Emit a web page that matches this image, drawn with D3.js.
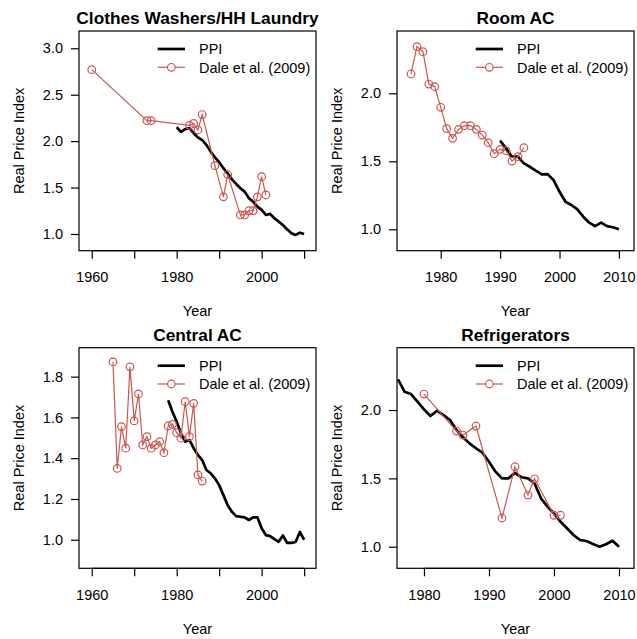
<!DOCTYPE html>
<html>
<head>
<meta charset="utf-8">
<script src="https://cdn.jsdelivr.net/npm/d3@7"></script>
<style>
  html, body { margin: 0; padding: 0; background: #fff; }
  svg { display: block; }
  text { font-family: "Liberation Sans", Arial, Helvetica, sans-serif; fill: #000; }
</style>
</head>
<body>
<svg id="chart" width="637" height="639"></svg>
<script>
// ---------- DATA ----------
// Clothes Washers / HH Laundry
const washerPPIYears = [1980,1981,1982,1983,1984,1985,1986,1987,1988,1989,1990,1991,1992,1993,1994,1995,1996,1997,1998,1999,2000,2001,2002,2003,2004,2005,2006,2007,2008,2009,2010];
const washerPPI      = [2.15,2.10,2.13,2.14,2.085,2.04,2.01,1.96,1.887,1.826,1.773,1.708,1.654,1.589,1.539,1.492,1.456,1.385,1.348,1.294,1.259,1.205,1.216,1.169,1.133,1.097,1.05,1.007,0.99,1.014,1.0];
const washerDaleYears = [1960,1973,1974,1983,1984,1985,1986,1989,1991,1992,1995,1996,1997,1998,1999,2000,2001];
const washerDale      = [2.77,2.22,2.22,2.17,2.19,2.12,2.286,1.736,1.40,1.64,1.205,1.205,1.25,1.25,1.40,1.617,1.42];

// Room AC
const roomPPIYears = [1990,1991,1992,1993,1994,1995,1996,1997,1998,1999,2000,2001,2002,2003,2004,2005,2006,2007,2008,2009,2010];
const roomPPI      = [1.652,1.595,1.534,1.535,1.485,1.46,1.431,1.404,1.406,1.362,1.276,1.203,1.179,1.147,1.093,1.049,1.024,1.049,1.024,1.015,1.0];
const roomDaleYears = [1975,1976,1977,1978,1979,1980,1981,1982,1983,1984,1985,1986,1987,1988,1989,1990,1991,1992,1993,1994];
const roomDale      = [2.142,2.343,2.306,2.068,2.049,1.897,1.74,1.669,1.735,1.762,1.762,1.735,1.693,1.637,1.556,1.588,1.578,1.502,1.534,1.60];

// Central AC
const centralPPIYears = [1978,1979,1980,1981,1982,1983,1984,1985,1986,1987,1988,1989,1990,1991,1992,1993,1994,1995,1996,1997,1998,1999,2000,2001,2002,2003,2004,2005,2006,2007,2008,2009,2010];
const centralPPI      = [1.684,1.628,1.579,1.522,1.481,1.489,1.449,1.416,1.391,1.342,1.326,1.301,1.268,1.219,1.17,1.137,1.116,1.113,1.11,1.097,1.11,1.11,1.056,1.023,1.018,1.003,0.99,1.021,0.985,0.985,0.989,1.038,1.0];
const centralDaleYears = [1965,1966,1967,1968,1969,1970,1971,1972,1973,1974,1975,1976,1977,1978,1979,1980,1981,1982,1983,1984,1985,1986];
const centralDale      = [1.872,1.35,1.555,1.449,1.848,1.583,1.715,1.465,1.506,1.449,1.465,1.481,1.427,1.558,1.566,1.525,1.498,1.677,1.506,1.669,1.318,1.288];

// Refrigerators
const fridgePPIYears = [1976,1977,1978,1979,1980,1981,1982,1983,1984,1985,1986,1987,1988,1989,1990,1991,1992,1993,1994,1995,1996,1997,1998,1999,2000,2001,2002,2003,2004,2005,2006,2007,2008,2009,2010];
const fridgePPI      = [2.225,2.134,2.117,2.061,2.005,1.956,1.995,1.963,1.927,1.854,1.80,1.756,1.72,1.688,1.622,1.549,1.50,1.50,1.54,1.508,1.50,1.464,1.354,1.293,1.244,1.183,1.135,1.086,1.049,1.042,1.02,1.0,1.018,1.044,1.0];
const fridgeDaleYears = [1980,1985,1986,1988,1992,1994,1996,1997,2000,2001];
const fridgeDale      = [2.117,1.846,1.817,1.883,1.21,1.585,1.378,1.497,1.23,1.23];

// Tick values
const xTicksWide   = [1960,1970,1980,1990,2000,2010];
const xLabelsWide  = [1960,1980,2000];
const xTicksNarrow = [1980,1990,2000,2010];
const yTicksWasher = [1.0,1.5,2.0,2.5,3.0];
const yTicksRoom   = [1.0,1.5,2.0];
const yTicksCentral= [1.0,1.2,1.4,1.6,1.8];
const yTicksFridge = [1.0,1.5,2.0];

const titles = ["Clothes Washers/HH Laundry","Room AC","Central AC","Refrigerators"];
const legendLabels = ["PPI","Dale et al. (2009)"];
const xLabel = "Year", yLabel = "Real Price Index";

// ---------- LAYOUT ----------
const RED = "#CD5650";
const FS = 14.5, TFS = 17.3;
const panels = [
  {title: titles[0], left: 79,  right: 316, top: 31,    bottom: 250.7, xd: [1957.0, 2012.8], yd: [0.82, 3.186],
   ppiX: washerPPIYears, ppiY: washerPPI, daleX: washerDaleYears, daleY: washerDale,
   xTicks: xTicksWide, xLabels: xLabelsWide, yTicks: yTicksWasher},
  {title: titles[1], left: 397, right: 634, top: 31,    bottom: 250.7, xd: [1972.64, 2012.54], yd: [0.843, 2.458],
   ppiX: roomPPIYears, ppiY: roomPPI, daleX: roomDaleYears, daleY: roomDale,
   xTicks: xTicksNarrow, xLabels: xTicksNarrow, yTicks: yTicksRoom},
  {title: titles[2], left: 79,  right: 316, top: 347.7, bottom: 568.3, xd: [1957.0, 2012.8], yd: [0.86, 1.942],
   ppiX: centralPPIYears, ppiY: centralPPI, daleX: centralDaleYears, daleY: centralDale,
   xTicks: xTicksWide, xLabels: xLabelsWide, yTicks: yTicksCentral},
  {title: titles[3], left: 397, right: 634, top: 347.7, bottom: 568.3, xd: [1975.85, 2012.31], yd: [0.842, 2.456],
   ppiX: fridgePPIYears, ppiY: fridgePPI, daleX: fridgeDaleYears, daleY: fridgeDale,
   xTicks: xTicksNarrow, xLabels: xTicksNarrow, yTicks: yTicksFridge}
];

const svg = d3.select("#chart");
const defs = svg.append("defs");

panels.forEach((p, i) => {
  const x = d3.scaleLinear().domain(p.xd).range([p.left, p.right]);
  const y = d3.scaleLinear().domain(p.yd).range([p.bottom, p.top]);
  const g = svg.append("g");
  const cx = (p.left + p.right) / 2, cy = (p.top + p.bottom) / 2;

  defs.append("clipPath").attr("id", "clip" + i)
    .append("rect").attr("x", p.left).attr("y", p.top)
    .attr("width", p.right - p.left).attr("height", p.bottom - p.top);

  // title
  g.append("text").attr("x", cx).attr("y", p.top - 7)
    .attr("text-anchor", "middle").attr("font-size", TFS).attr("font-weight", "bold")
    .text(p.title);

  // axes
  const xAxis = d3.axisBottom(x).tickValues(p.xTicks).tickSize(8).tickPadding(13.5)
    .tickFormat(d => p.xLabels.includes(d) ? String(d) : "");
  const gx = g.append("g").attr("transform", `translate(0,${p.bottom})`).call(xAxis);
  const yAxis = d3.axisLeft(y).tickValues(p.yTicks).tickSize(8).tickPadding(8)
    .tickFormat(d3.format(".1f"));
  const gy = g.append("g").attr("transform", `translate(${p.left},0)`).call(yAxis);
  [gx, gy].forEach(a => {
    a.select(".domain").remove();
    a.selectAll(".tick line").attr("stroke", "#000").attr("stroke-width", 1.2);
    a.selectAll(".tick text").attr("font-size", FS).attr("fill", "#000")
      .attr("font-family", '"Liberation Sans", Arial, sans-serif');
  });
  g.append("line").attr("x1", x(p.xTicks[0])).attr("x2", x(p.xTicks[p.xTicks.length-1]))
    .attr("y1", p.bottom).attr("y2", p.bottom).attr("stroke", "#000").attr("stroke-width", 1.2);

  // axis labels
  g.append("text").attr("x", cx).attr("y", p.bottom + 65.5)
    .attr("text-anchor", "middle").attr("font-size", FS).text(xLabel);
  g.append("text").attr("transform", `translate(${p.left - 55},${cy}) rotate(-90)`)
    .attr("text-anchor", "middle").attr("font-size", FS).text(yLabel);

  // box
  g.append("rect").attr("x", p.left).attr("y", p.top)
    .attr("width", p.right - p.left).attr("height", p.bottom - p.top)
    .attr("fill", "none").attr("stroke", "#000").attr("stroke-width", 1.2);

  const plot = g.append("g").attr("clip-path", `url(#clip${i})`);
  const line = d3.line().x(d => x(d[0])).y(d => y(d[1]));

  // PPI line
  plot.append("path").datum(p.ppiX.map((yr, k) => [yr, p.ppiY[k]]))
    .attr("d", line).attr("fill", "none").attr("stroke", "#000")
    .attr("stroke-width", 2.7).attr("stroke-linejoin", "round").attr("stroke-linecap", "butt");

  // Dale line + points
  const dale = p.daleX.map((yr, k) => [yr, p.daleY[k]]);
  plot.append("path").datum(dale).attr("d", line).attr("fill", "none")
    .attr("stroke", RED).attr("stroke-width", 1.2);
  plot.selectAll("circle.dale").data(dale).enter().append("circle")
    .attr("class", "dale").attr("cx", d => x(d[0])).attr("cy", d => y(d[1]))
    .attr("r", 3.8).attr("fill", "none").attr("stroke", RED).attr("stroke-width", 1.2);

  // legend
  const lx1 = p.right - 158.3, lx2 = p.right - 131, tx = p.right - 117;
  const r1 = p.top + 18, r2 = p.top + 36.3;
  g.append("line").attr("x1", lx1).attr("x2", lx2).attr("y1", r1).attr("y2", r1)
    .attr("stroke", "#000").attr("stroke-width", 2.7);
  g.append("line").attr("x1", lx1).attr("x2", lx2).attr("y1", r2).attr("y2", r2)
    .attr("stroke", RED).attr("stroke-width", 1.2);
  g.append("circle").attr("cx", (lx1 + lx2) / 2).attr("cy", r2).attr("r", 3.8)
    .attr("fill", "#fff").attr("stroke", RED).attr("stroke-width", 1.2);
  g.append("text").attr("x", tx).attr("y", r1).attr("dy", "0.36em").attr("font-size", FS).text(legendLabels[0]);
  g.append("text").attr("x", tx).attr("y", r2).attr("dy", "0.36em").attr("font-size", FS).text(legendLabels[1]);
});
</script>
</body>
</html>
